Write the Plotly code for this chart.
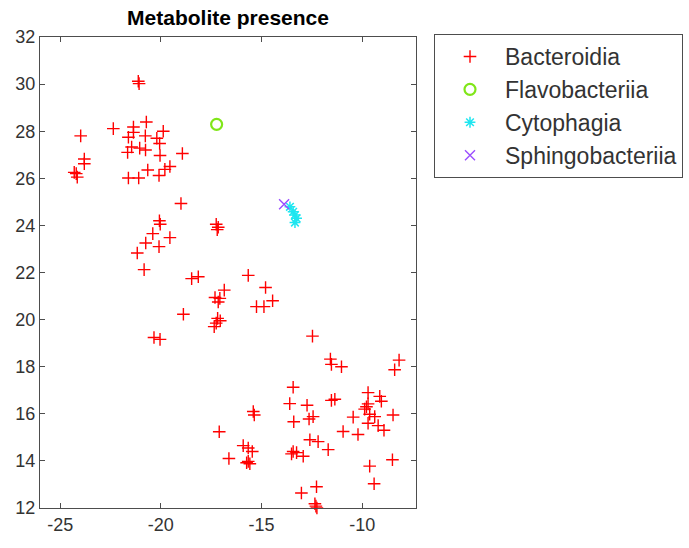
import plotly.graph_objects as go

# Bacteroidia
bac_x = [-21.12, -21.08, -22.36, -23.98, -20.72, -21.36, -21.36, -19.88, -21.61, -20.77,
         -20.20, -20.06, -21.45, -21.05, -21.65, -20.76, -20.04, -18.93, -23.80, -23.80,
         -24.30, -24.20, -24.15, -21.61, -21.10, -20.65, -20.09, -19.80, -19.55, -19.00,
         -20.07, -20.03, -20.40, -20.75, -19.55, -20.09, -21.17, -20.83, -17.25, -17.15,
         -17.20,
         -18.47, -18.14, -15.66, -14.80, -16.85, -17.31, -17.07, -17.15, -15.25, -14.88,
         -14.45, -18.88, -17.18, -17.05, -17.25, -17.35, -20.34, -20.04,
         -12.47, -11.58, -11.53, -11.03, -8.17, -8.39, -13.43, -13.60, -12.74, -11.53,
         -11.36, -13.40, -12.64, -12.44, -9.71, -9.13, -9.05, -9.88, -9.79, -9.71,
         -9.63, -10.45, -9.38, -9.71, -9.21, -8.92, -8.47, -10.95, -10.21, -12.60,
         -12.19, -11.69, -13.43, -13.26, -13.51, -12.93, -15.41, -15.36, -17.10, -15.91,
         -15.66, -15.46, -15.66, -15.58, -15.74, -16.62, -9.63, -9.41, -8.50, -13.02,
         -12.27, -12.35, -12.30, -12.25]
bac_y = [30.12, 30.02, 28.11, 27.80, 28.39, 28.18, 27.95, 28.00, 27.74, 27.80,
         27.70, 27.48, 27.33, 27.28, 27.10, 27.20, 26.97, 27.05, 26.82, 26.62,
         26.25, 26.20, 26.05, 26.01, 26.01, 26.35, 26.12, 26.38, 26.50, 24.93,
         24.20, 24.05, 23.65, 23.25, 23.48, 23.10, 22.83, 22.12, 24.05, 23.92,
         23.82,
         21.74, 21.82, 21.88, 21.36, 21.25, 20.94, 20.90, 20.75, 20.55, 20.55,
         20.80, 20.23, 20.05, 19.95, 19.85, 19.70, 19.24, 19.16,
         19.30, 18.32, 18.10, 18.00, 18.28, 17.87, 17.13, 16.43, 16.36, 16.57,
         16.62, 15.66, 15.78, 15.88, 16.90, 16.74, 16.53, 16.20, 16.30, 16.42,
         15.98, 15.86, 15.88, 15.60, 15.50, 15.30, 15.95, 15.25, 15.12, 14.90,
         14.82, 14.48, 14.40, 14.35, 14.30, 14.20, 16.10, 15.95, 15.24, 14.65,
         14.55, 14.40, 13.98, 13.88, 13.92, 14.10, 13.78, 13.03, 14.05, 12.64,
         12.90, 12.18, 12.08, 12.00]

# Flavobacteriia
flav_x = [-17.23]
flav_y = [28.29]

# Cytophagia
cyto_x = [-13.59, -13.43, -13.34, -13.26, -13.34]
cyto_y = [24.79, 24.58, 24.44, 24.30, 24.12]

# Sphingobacteriia
sphi_x = [-13.88]
sphi_y = [24.90]

x_ticks = [-25, -20, -15, -10]
y_ticks = [12, 14, 16, 18, 20, 22, 24, 26, 28, 30, 32]

fig = go.Figure()
fig.add_trace(go.Scatter(x=bac_x, y=bac_y, mode="markers", name="Bacteroidia",
                         cliponaxis=False,
                         marker=dict(symbol="cross-thin-open", size=9, color="#ff0000",
                                     line=dict(width=1.4, color="#ff0000"))))
fig.add_trace(go.Scatter(x=flav_x, y=flav_y, mode="markers", name="Flavobacteriia",
                         cliponaxis=False,
                         marker=dict(symbol="circle-open", size=11, color="#80e619",
                                     line=dict(width=2.2, color="#80e619"))))
fig.add_trace(go.Scatter(x=cyto_x, y=cyto_y, mode="markers", name="Cytophagia",
                         cliponaxis=False,
                         marker=dict(symbol="asterisk-open", size=9, color="#1ee6f0",
                                     line=dict(width=1.5, color="#1ee6f0"))))
fig.add_trace(go.Scatter(x=sphi_x, y=sphi_y, mode="markers", name="Sphingobacteriia",
                         cliponaxis=False,
                         marker=dict(symbol="x-thin-open", size=10, color="#9a4dff",
                                     line=dict(width=1.4, color="#9a4dff"))))

axis_common = dict(showgrid=False, zeroline=False, showline=True, linecolor="#4d4d4d",
                   linewidth=1, mirror="ticks", ticks="inside", ticklen=5,
                   tickcolor="#4d4d4d", tickfont=dict(family="Liberation Sans, Arial",
                                                     size=18, color="#333333"))

fig.update_layout(
    width=689, height=548,
    margin=dict(l=40, r=273, t=37, b=40, autoexpand=False),
    paper_bgcolor="white", plot_bgcolor="white",
    title=dict(text="<b>Metabolite presence</b>", x=(40 + 188) / 689, xanchor="center",
               y=1 - 18 / 548, yanchor="middle",
               font=dict(family="Liberation Sans, Arial", size=21, color="#000000")),
    xaxis=dict(range=[-26, -7.33], tickvals=x_ticks, ticktext=[str(v) for v in x_ticks],
               **axis_common),
    yaxis=dict(range=[12, 32], tickvals=y_ticks, ticktext=[str(v) for v in y_ticks],
               **axis_common),
    legend=dict(xref="container", yref="container",
                x=434 / 689, y=1 - 34 / 548, xanchor="left", yanchor="top",
                bordercolor="#4d4d4d", borderwidth=1, bgcolor="white",
                itemwidth=60,
                font=dict(family="Liberation Sans, Arial", size=23, color="#333333"),
                tracegroupgap=0),
    showlegend=True,
)

fig.write_html("out.html")
